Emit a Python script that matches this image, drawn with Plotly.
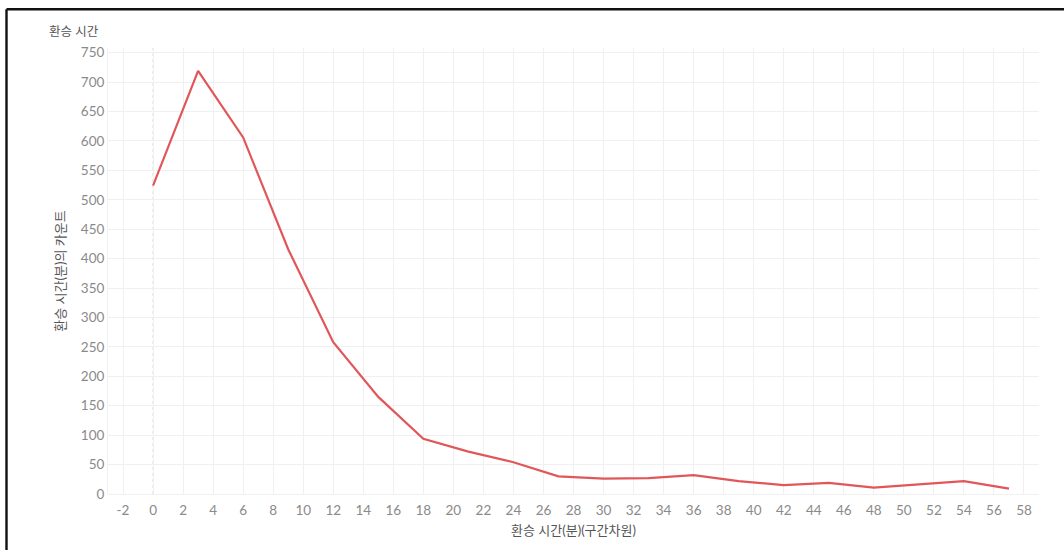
import plotly.graph_objects as go

# Binned transfer time (minutes, bin size 3) and counts
bins = [0, 3, 6, 9, 12, 15, 18, 21, 24, 27, 30, 33, 36, 39, 42, 45, 48, 51, 54, 57]
counts = [524, 719, 606, 416, 258, 165, 94, 72, 54, 30, 26, 27, 32, 22, 15, 19, 11, 16, 22, 9]

y_ticks = list(range(0, 751, 50))
x_ticks = list(range(-2, 59, 2))

chart_title = "환승 시간"
x_title = "환승 시간(분)(구간차원)"
y_title = "환승 시간(분)의 카운트"

FONT = "Lato, 'Noto Sans CJK KR', sans-serif"
GRID = "#f0f0f0"

fig = go.Figure()
fig.add_trace(go.Scatter(
    x=bins, y=counts, mode="lines",
    line=dict(color="#E15759", width=2.2),
    showlegend=False,
))

W, H = 1064, 550
ml, mr, mt, mb = 108, 25, 48, 56
pw, ph = W - ml - mr, H - mt - mb

def px2paper_x(px):
    return (px - ml) / pw

def px2paper_y(py):
    return (H - mb - py) / ph

shapes = [
    # dotted line at x=0
    dict(type="line", xref="x", yref="paper", x0=0, x1=0, y0=0, y1=1,
         line=dict(color="#d8d8d8", width=1, dash="dot"), layer="below"),
    # outer frame (top and left)
    dict(type="line", xref="paper", yref="paper",
         x0=px2paper_x(6.5), x1=px2paper_x(1064), y0=px2paper_y(9.2), y1=px2paper_y(9.2),
         line=dict(color="#111111", width=2.4)),
    dict(type="line", xref="paper", yref="paper",
         x0=px2paper_x(6.5), x1=px2paper_x(6.5), y0=px2paper_y(9.2), y1=px2paper_y(551),
         line=dict(color="#111111", width=2.4)),
]

fig.update_layout(
    width=W, height=H,
    margin=dict(l=ml, r=mr, t=mt, b=mb),
    paper_bgcolor="white", plot_bgcolor="white",
    font=dict(family=FONT, size=13, color="#888888"),
    shapes=shapes,
    annotations=[dict(
        text=chart_title, xref="paper", yref="paper",
        x=px2paper_x(47), y=px2paper_y(32), xanchor="left", yanchor="middle",
        showarrow=False, font=dict(size=12.5, color="#555555", family=FONT),
    )],
    xaxis=dict(
        range=[-3, 59], tickmode="array", tickvals=x_ticks,
        ticktext=[str(v) for v in x_ticks],
        showgrid=True, gridcolor=GRID, gridwidth=1, zeroline=False,
        ticks="outside", ticklen=4, tickcolor="rgba(0,0,0,0)",
        tickfont=dict(size=13.5, color="#8a8a8a"),
        title=dict(text=x_title, font=dict(size=13, color="#555555"), standoff=8),
        showline=False,
    ),
    yaxis=dict(
        range=[0, 758], tickmode="array", tickvals=y_ticks,
        ticktext=[str(v) for v in y_ticks],
        showgrid=True, gridcolor=GRID, gridwidth=1,
        zeroline=True, zerolinecolor=GRID, zerolinewidth=1,
        tickfont=dict(size=13.5, color="#8a8a8a"),
        title=dict(text=y_title, font=dict(size=13, color="#555555"), standoff=12),
        showline=True, linecolor=GRID, linewidth=1,
    ),
)

fig.write_html(
    "out.html",
    config={"displayModeBar": False},
    post_script="document.body.style.margin='0';document.body.style.overflow='hidden';",
)
